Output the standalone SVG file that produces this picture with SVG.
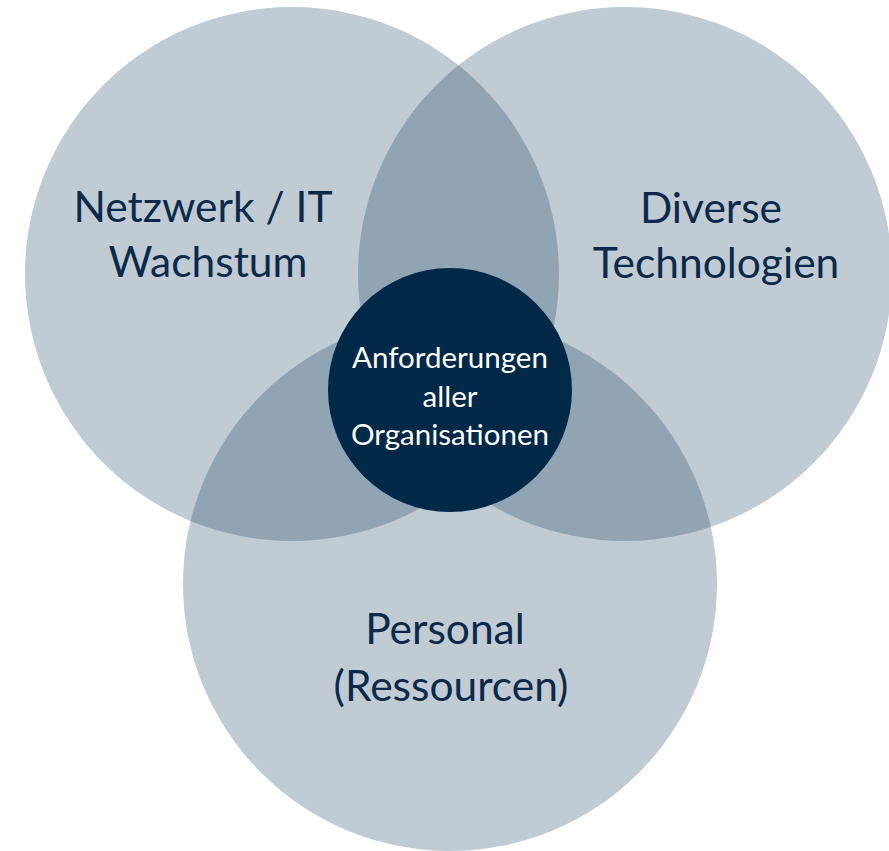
<svg xmlns="http://www.w3.org/2000/svg" width="889" height="851" viewBox="0 0 889 851">
<style>
.c{fill:#0d3558;fill-opacity:0.26}
.t{font-family:Lato,"Open Sans","Liberation Sans",sans-serif;font-size:42.5px;fill:#0b2a4a;text-anchor:middle}
.w{font-family:Lato,"Open Sans","Liberation Sans",sans-serif;font-size:29.5px;fill:#ffffff;text-anchor:middle}
</style>
<rect width="889" height="851" fill="#ffffff"/>
<g id="netzwerk">
<circle class="c" cx="292" cy="274" r="267"/>
<text class="t" x="203" y="222">Netzwerk / IT</text>
<text class="t" x="208" y="277">Wachstum</text>
</g>
<g id="technologien">
<circle class="c" cx="625" cy="274" r="267"/>
<text class="t" x="711" y="223">Diverse</text>
<text class="t" x="716" y="278">Technologien</text>
</g>
<g id="personal">
<circle class="c" cx="450" cy="584" r="267"/>
<text class="t" x="445" y="644">Personal</text>
<text class="t" x="451" y="701">(Ressourcen)</text>
</g>
<g id="anforderungen">
<circle cx="450" cy="390" r="122" fill="#002847"/>
<text class="w" x="450" y="368">Anforderungen</text>
<text class="w" x="450" y="407">aller</text>
<text class="w" x="450" y="445">Organisationen</text>
</g>
<g id="connectors"/>
</svg>
